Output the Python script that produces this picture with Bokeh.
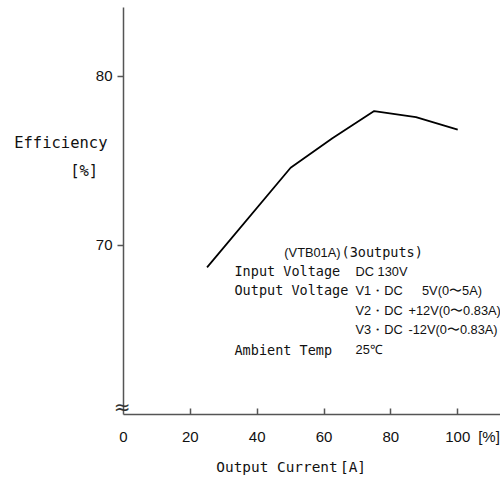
from bokeh.plotting import figure
from bokeh.models import Range1d, FixedTicker, Label, LinearAxis
from bokeh.embed import file_html
from bokeh.resources import INLINE

# ---- data ----
load_pct = [25, 50, 62.5, 75, 87.5, 100]
efficiency = [68.7, 74.6, 76.35, 77.95, 77.6, 76.85]
x_ticks = [0, 20, 40, 60, 80, 100]
y_ticks = [70, 80]
x_unit = "[%]"
x_title = ["Output Current", "[A]"]
y_title = ["Efficiency", "[%]"]
break_mark = "≈"

info_mono = ["(3outputs)", "Input Voltage", "Output Voltage", "Ambient Temp"]
info_sans = ["(VTB01A)", "DC 130V", "V1・DC", "5V(0〜5A)", "V2・DC", "+12V(0〜0.83A)",
             "V3・DC", "-12V(0〜0.83A)", "25℃"]

SANS = "Liberation Sans"
MONO = "DejaVu Sans Mono"
AX = "#555555"
TXT = "#111111"

W, H = 500, 481
LEFT, BOTTOM, TOP = 123, 67, 7
X0, X1 = 0, 112.8
Y0, Y1 = 60.0, 84.08

fw = W - LEFT
fh = H - BOTTOM - TOP
def Xv(px):
    return round(X0 + (px - LEFT) / fw * (X1 - X0), 2)
def Yv(py):
    return round(Y1 - (py - TOP) / fh * (Y1 - Y0), 2)

p = figure(width=W, height=H, x_range=Range1d(X0, X1), y_range=Range1d(Y0, Y1),
           output_backend="svg", toolbar_location=None,
           min_border_left=LEFT, min_border_right=0, min_border_top=TOP,
           min_border_bottom=BOTTOM)
p.outline_line_color = None
p.grid.visible = False
p.background_fill_color = "white"
p.border_fill_color = "white"

# ---- x axis: visible ticks as minor ticks, labels as major ----
pct_pos = Xv(488.5)
xa = p.xaxis[0]
xa.ticker = FixedTicker(ticks=x_ticks + [pct_pos], minor_ticks=x_ticks[1:])
xa.major_label_overrides = {pct_pos: x_unit}
xa.axis_line_color = AX
xa.axis_line_width = 1.5
xa.major_tick_line_color = None
xa.major_tick_in = 0
xa.major_tick_out = 0
xa.minor_tick_line_color = AX
xa.minor_tick_line_width = 1.5
xa.minor_tick_in = 6
xa.minor_tick_out = 0
xa.major_label_standoff = 13
xa.major_label_text_font = SANS
xa.major_label_text_font_size = "15px"
xa.major_label_text_color = TXT

# x title row (second axis below)
t1, t2 = Xv(276.5), Xv(352.5)
xt = LinearAxis(ticker=FixedTicker(ticks=[t1, t2]),
                major_label_overrides={t1: x_title[0], t2: x_title[1]},
                axis_line_color=None, major_tick_line_color=None,
                minor_tick_line_color=None, major_tick_in=0, major_tick_out=0,
                major_label_standoff=11, major_label_text_font=MONO,
                major_label_text_font_size="14.4px", major_label_text_color=TXT)
p.add_layout(xt, "below")

# ---- y axis ----
ya = p.yaxis[0]
ya.ticker = FixedTicker(ticks=y_ticks)
ya.axis_line_color = AX
ya.axis_line_width = 1.5
ya.major_tick_line_color = AX
ya.major_tick_line_width = 1.5
ya.major_tick_in = 0
ya.major_tick_out = 6
ya.minor_tick_line_color = None
ya.major_label_standoff = 5
ya.major_label_text_font = SANS
ya.major_label_text_font_size = "15px"
ya.major_label_text_color = TXT

# y title (second axis on the left)
e1, e2 = Yv(142.5), Yv(170.5)
yt = LinearAxis(ticker=FixedTicker(ticks=[e1, e2]),
                major_label_overrides={e1: y_title[0], e2: y_title[1] + "\u00a0"},
                axis_line_color=None, major_tick_line_color=None,
                minor_tick_line_color=None, major_tick_in=0, major_tick_out=0,
                major_label_standoff=-15, major_label_text_font=MONO,
                major_label_text_font_size="15.5px", major_label_text_color=TXT)
p.add_layout(yt, "left")

# axis-break mark (third axis on the left)
b1 = Yv(406)
yb = LinearAxis(ticker=FixedTicker(ticks=[b1]),
                major_label_overrides={b1: break_mark},
                axis_line_color=None, major_tick_line_color=None,
                minor_tick_line_color=None, major_tick_in=0, major_tick_out=0,
                major_label_standoff=-119, major_label_text_font="DejaVu Sans",
                major_label_text_font_size="20px", major_label_text_color="#333333")
p.add_layout(yb, "left")

# ---- curve ----
p.line(load_pct, efficiency, line_color="black", line_width=1.8)

def lab(text, px, py, font, size, align="left"):
    p.add_layout(Label(x=Xv(px), y=Yv(py), text=text, text_font=font,
                       text_font_size=size, text_align=align,
                       text_baseline="middle", text_color=TXT))

# ---- info block ----
lab(info_sans[0], 340, 251.5, SANS, "12.8px", align="right")
lab(info_mono[0], 341, 251.5, MONO, "13.5px")
lab(info_mono[1], 234, 270.5, MONO, "13.5px")
lab(info_sans[1], 355, 270.5, SANS, "12.8px")
lab(info_mono[2], 234, 290, MONO, "13.5px")
lab(info_sans[2], 355, 290, SANS, "12.8px")
lab(info_sans[3], 421.5, 290, SANS, "12.8px")
lab(info_sans[4], 355, 310, SANS, "12.8px")
lab(info_sans[5], 408, 310, SANS, "12.8px")
lab(info_sans[6], 355, 329.5, SANS, "12.8px")
lab(info_sans[7], 408, 329.5, SANS, "12.8px")
lab(info_mono[3], 234, 349.5, MONO, "13.5px")
lab(info_sans[8], 355, 349.5, SANS, "12.8px")

open("out.html", "w").write(file_html(p, INLINE))
